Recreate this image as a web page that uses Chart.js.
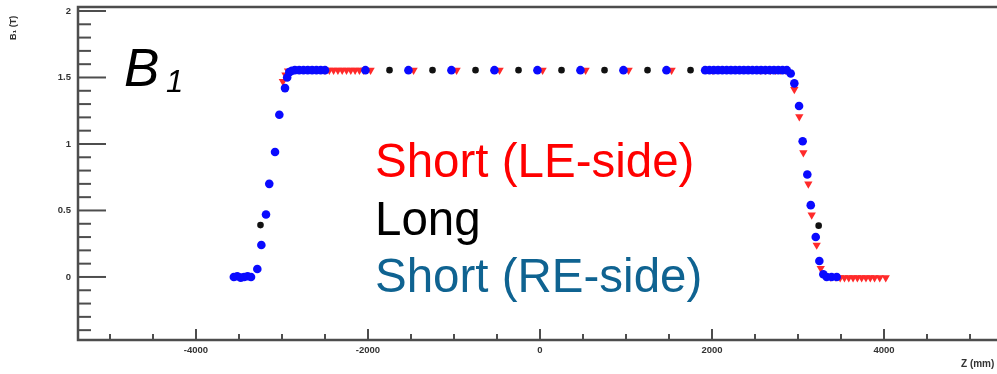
<!DOCTYPE html>
<html>
<head>
<meta charset="utf-8">
<script src="https://cdn.jsdelivr.net/npm/chart.js@4.4.1/dist/chart.umd.min.js"></script>
<style>
  html, body { margin: 0; padding: 0; background: #fff; overflow: hidden; }
  #wrap { position: absolute; left: 0; top: 0; width: 1010px; height: 374px; }
</style>
</head>
<body>
<div id="wrap"><canvas id="fieldChart" width="1010" height="374"></canvas></div>
<script>
// Z positions (mm) and B1 (T)
const shortRE_z = [-3560, -3520, -3480, -3440, -3400, -3360, -3287, -3240, -3186, -3148, -3081, -3031, -2965,
  -2940, -2915, -2885, -2850, -2800, -2750, -2700, -2650, -2600, -2550, -2500,
  -2030, -1530, -1030, -530, -30, 470, 970, 1470,
  1920, 1970, 2020, 2070, 2120, 2170, 2220, 2270, 2320, 2370, 2420, 2470, 2520, 2570, 2620, 2670, 2720, 2770, 2820, 2870,
  2915, 2957, 3012, 3054, 3108, 3148, 3206, 3248, 3294, 3333, 3390, 3450];
const shortRE_b = [0, 0.005, -0.005, 0, 0.005, 0, 0.06, 0.24, 0.47, 0.70, 0.94, 1.22, 1.42,
  1.50, 1.54, 1.55, 1.555, 1.555, 1.555, 1.555, 1.555, 1.555, 1.555, 1.555,
  1.555, 1.555, 1.555, 1.555, 1.555, 1.555, 1.555, 1.555,
  1.555, 1.555, 1.555, 1.555, 1.555, 1.555, 1.555, 1.555, 1.555, 1.555, 1.555, 1.555, 1.555, 1.555, 1.555, 1.555, 1.555, 1.555, 1.555, 1.555,
  1.53, 1.456, 1.286, 1.02, 0.77, 0.54, 0.30, 0.12, 0.02, 0, 0, 0];

const shortLE_z = [-2990, -2960, -2930,
  -2500, -2450, -2400, -2350, -2300, -2250, -2200, -2150, -2100, -2050,
  -1970, -1470, -970, -470, 30, 530, 1030, 1530,
  2010, 2560, 2620, 2680, 2740, 2800, 2860,
  2957, 3015, 3062, 3120, 3159, 3217, 3264, 3310, 3380, 3440,
  3490, 3540, 3590, 3640, 3690, 3740, 3790, 3840, 3890, 3950, 4020];
const shortLE_b = [1.47, 1.52, 1.55,
  1.555, 1.555, 1.555, 1.555, 1.555, 1.555, 1.555, 1.555, 1.555, 1.555,
  1.555, 1.555, 1.555, 1.555, 1.555, 1.555, 1.555, 1.555,
  1.555, 1.555, 1.555, 1.555, 1.555, 1.555, 1.555,
  1.41, 1.205, 0.935, 0.70, 0.466, 0.24, 0.065, 0.01, 0, 0,
  -0.005, -0.005, -0.005, -0.005, -0.005, -0.005, -0.005, -0.005, -0.005, -0.005, -0.005];

const long_z = [-3250, -1750, -1250, -750, -250, 250, 750, 1250, 1750, 3240];
const long_b = [0.39, 1.555, 1.555, 1.555, 1.555, 1.555, 1.555, 1.555, 1.555, 0.386];

const xTickLabels = [-4000, -2000, 0, 2000, 4000];
const yTickLabels = [0, 0.5, 1, 1.5, 2];

const legendLines = ["Short (LE-side)", "Long", "Short (RE-side)"];
const legendColors = ["#ff0000", "#000000", "#0f6391"];

function toPoints(zs, bs) {
  return zs.map((z, i) => ({ x: z, y: bs[i] }));
}

// ROOT style frame: ticks inside the frame, big labels drawn on the pad
const rootFrame = {
  id: "rootFrame",
  beforeDatasetsDraw(chart) {
    const { ctx, chartArea: a, scales } = chart;
    const xs = scales.x, ys = scales.y;
    ctx.save();
    ctx.strokeStyle = "#4d4d4d";
    ctx.lineWidth = 2;
    // x ticks every 500, long every 2000
    for (let v = -5000; v <= 5000; v += 500) {
      const px = xs.getPixelForValue(v);
      const len = v % 2000 === 0 ? 11 : 6;
      ctx.beginPath();
      ctx.moveTo(px, a.bottom);
      ctx.lineTo(px, a.bottom - len);
      ctx.stroke();
    }
    // y ticks every 0.1, long every 0.5
    for (let k = -4; k <= 20; k++) {
      const v = k / 10;
      const py = ys.getPixelForValue(v);
      const len = k % 5 === 0 ? 28 : 13;
      ctx.beginPath();
      ctx.moveTo(a.left, py);
      ctx.lineTo(a.left + len, py);
      ctx.stroke();
    }
    ctx.lineWidth = 2.5;
    ctx.strokeRect(a.left, a.top, a.right - a.left, a.bottom - a.top);
    ctx.restore();
  },
  afterDraw(chart) {
    const { ctx } = chart;
    ctx.save();
    // axis titles
    ctx.fillStyle = "#333";
    ctx.font = "bold 9px 'Liberation Sans', Arial, sans-serif";
    ctx.textBaseline = "middle";
    ctx.translate(14, 40);
    ctx.rotate(-Math.PI / 2);
    ctx.textAlign = "left";
    ctx.fillText("B\u2081 (T)", 0, 0);
    ctx.restore();

    ctx.save();
    ctx.fillStyle = "#333";
    ctx.font = "bold 10px 'Liberation Sans', Arial, sans-serif";
    ctx.textBaseline = "middle";
    ctx.textAlign = "left";
    ctx.fillText("Z (mm)", 961, 364);

    // B1 label
    ctx.fillStyle = "#000";
    ctx.textBaseline = "alphabetic";
    ctx.font = "italic 53px 'Liberation Sans', Arial, sans-serif";
    ctx.fillText("B", 124, 86);
    ctx.font = "italic 31px 'Liberation Sans', Arial, sans-serif";
    ctx.fillText("1", 166, 92);

    // text legend
    ctx.font = "47.5px 'Liberation Sans', Arial, sans-serif";
    const baselines = [177, 235, 292];
    legendLines.forEach((t, i) => {
      ctx.fillStyle = legendColors[i];
      ctx.fillText(t, 375, baselines[i]);
    });
    ctx.restore();
  }
};

const ctxField = document.getElementById("fieldChart");

const fieldChart = new Chart(ctxField, {
  type: "scatter",
  data: {
    datasets: [
      {
        label: "Short (RE-side)",
        data: toPoints(shortRE_z, shortRE_b),
        pointStyle: "circle",
        pointRadius: 4.3,
        backgroundColor: "#0a0aff",
        borderWidth: 0,
        order: 0,
      },
      {
        label: "Long",
        data: toPoints(long_z, long_b),
        pointStyle: "circle",
        pointRadius: 3.3,
        backgroundColor: "#111",
        borderWidth: 0,
        order: 1,
      },
      {
        label: "Short (LE-side)",
        data: toPoints(shortLE_z, shortLE_b),
        pointStyle: "triangle",
        rotation: 180,
        pointRadius: 4.8,
        backgroundColor: "#ff2a2a",
        borderWidth: 0,
        order: 2,
      },
    ],
  },
  options: {
    responsive: false,
    animation: false,
    layout: { padding: { top: 7, right: 6, left: 0, bottom: 0 } },
    plugins: { legend: { display: false }, tooltip: { enabled: false } },
    scales: {
      x: {
        type: "linear",
        min: -5372,
        max: 5395,
        grid: { display: false, drawTicks: false },
        border: { display: false },
        afterBuildTicks: (scale) => {
          scale.ticks = xTickLabels.map((v) => ({ value: v }));
        },
        afterFit: (scale) => {
          scale.height = 34;
          scale.paddingLeft = 0;
          scale.paddingRight = 0;
        },
        ticks: {
          padding: 5,
          maxRotation: 0,
          autoSkip: false,
          color: "#333",
          font: { family: "'Liberation Sans', Arial, sans-serif", size: 9.5, weight: "bold" },
          callback: (v) => String(v),
        },
      },
      y: {
        type: "linear",
        min: -0.474,
        max: 2.03,
        grid: { display: false, drawTicks: false },
        border: { display: false },
        afterBuildTicks: (scale) => {
          scale.ticks = yTickLabels.map((v) => ({ value: v }));
        },
        afterFit: (scale) => {
          scale.width = 78;
          scale.paddingTop = 0;
          scale.paddingBottom = 0;
        },
        ticks: {
          padding: 7,
          autoSkip: false,
          color: "#333",
          font: { family: "'Liberation Sans', Arial, sans-serif", size: 9.5, weight: "bold" },
          callback: (v) => String(v),
        },
      },
    },
  },
  plugins: [rootFrame],
});
</script>
</body>
</html>
